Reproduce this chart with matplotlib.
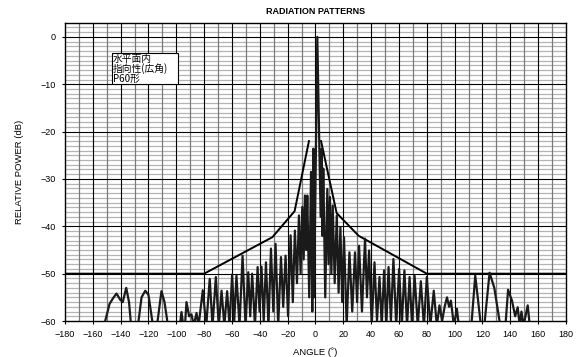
import matplotlib
matplotlib.use("Agg")
import matplotlib.pyplot as plt
import numpy as np

plt.rcParams['font.family'] = ['Liberation Sans', 'DejaVu Sans']

# measured pattern: angle (deg) and relative level (dB); -61 = below chart floor
angle = [-152, -148, -145.5, -143, -140.3, -138.5, -136, -134, -132.5,
         -127.6, -125, -122.3, -120, -116.8,
         -113.9, -110.7, -108.5, -106,
         -97.5, -96.3, -95, -93.8, -92.7, -90.8, -89.1, -87.5, -85.5, -84,
         -81, -78.5, -76, -74, -71.6, -69.5, -67.5, -65.5, -63.5, -61.8,
         -59.9, -58.4, -56.8, -54.6, -52.4, -50.3, -48.3, -46.9, -45.5, -43.5,
         -41.6, -40.2, -38.8, -37.2, -35.6, -33.8, -32, -30.3, -28.7, -26.8,
         -24.8, -23.2, -21.5, -19.7, -17.9, -16.3, -14.8, -13.3, -11.9, -10.7,
         -9.5, -8.5, -7.6, -6.7, -5.9, -4.5, -3.2, -2.3, -1.5, -1.0,
         1.3, 3.7, 4.5, 5.0, 5.6, 7.0, 8.5, 9.4, 10.4, 11.4,
         12.4, 13.8, 15.3, 16.6, 17.9, 19.2, 20.5, 22.4, 24.4, 26.4,
         28.4, 29.9, 31.3, 33.4, 35.6, 37, 38.5, 40.4, 42.4, 44.2,
         46, 47.6, 49.3, 50.9, 52.5, 54.2, 56, 58, 60.1, 62,
         63.9, 65.8, 67.6, 69.4, 71.2, 73.5, 75.7, 77.9, 80, 82.5,
         85, 87.2, 89.1, 91, 92.8, 94.5, 96, 97.3, 99.5, 101.6, 103,
         112, 114.8, 118.9, 121.3, 125.1, 128.5, 132.8,
         136.5, 138.4, 141.2, 143.5, 145.3, 146.8, 148, 149.5, 152.5, 154]
level = [-61, -56.4, -55.2, -54.2, -55.5, -56, -53, -56, -61,
         -61, -55, -53.6, -54.5, -61,
         -61, -53.7, -56, -61,
         -61, -58.1, -61, -61, -56, -59, -58.6, -61, -58.3, -61,
         -53.5, -61, -51.1, -61, -50.7, -61, -53.6, -61, -53.7, -61,
         -50.2, -60, -50.4, -61, -46.2, -61, -49.7, -59, -50, -61,
         -48.6, -58, -48.5, -60, -47.6, -61, -44.7, -58, -43.7, -61,
         -46.5, -57, -46.2, -59, -41.9, -56, -40.9, -52, -37.7, -50,
         -35.9, -47, -33.5, -45, -33.5, -55, -28.5, -58, -23.6, -55,
         0, -38, -23.6, -42, -27.8, -55, -32.1, -48, -33.8, -50,
         -35.6, -52, -37.7, -54, -40.2, -56, -42.3, -61, -45.5, -58,
         -45.5, -56, -44.1, -58, -42.6, -55, -45.1, -61, -47.6, -60,
         -50.7, -61, -49.3, -61, -48.6, -60, -46.9, -61, -49, -61,
         -49.3, -61, -50.7, -61, -50.4, -61, -51.6, -61, -50.7, -61,
         -53.6, -61, -56.7, -60, -57, -55, -57, -55.7, -61, -57.4, -61,
         -61, -50.4, -61, -61, -49.8, -53, -61,
         -61, -53.4, -55.7, -59, -57.1, -61, -58, -61, -56.7, -61]

# limit mask, left and right halves (open at the top)
mask_left_angle = [-180, -80, -31, -15, -4.7]
mask_left_level = [-50, -50, -42.3, -36.8, -22]
mask_right_angle = [4, 15.2, 31, 80, 180]
mask_right_level = [-22, -37.2, -42, -50, -50]

xticks = list(range(-180, 181, 20))
yticks = list(range(-60, 1, 10))

fig = plt.figure(figsize=(5.83, 3.57), dpi=100)
ax = fig.add_axes([0.1115, 0.1008, 0.8593, 0.8356])

ax.set_xlim(-180, 180)
ax.set_ylim(-60, 3)

# fine chart-paper grid
for a in range(-170, 180, 20):
    ax.axvline(a, color='#7a7a7a', lw=0.9, zorder=1)
for a in range(-160, 180, 20):
    ax.axvline(a, color='black', lw=0.8, zorder=1.2)
for d in range(-59, 3):
    if d % 10 != 0:
        ax.axhline(d, color='#b4b4b4', lw=0.9, zorder=0.9)
for d in range(-50, 1, 10):
    ax.axhline(d, color='black', lw=0.8, zorder=1.2)

ax.plot(mask_left_angle, mask_left_level, color='black', lw=1.4, zorder=3)
ax.plot(mask_right_angle, mask_right_level, color='black', lw=1.4, zorder=3)
ax.plot(angle, level, color='#1a1a1a', lw=1.6, zorder=4)

ax.set_xticks(xticks)
ax.set_yticks(yticks)
ax.set_xticklabels([str(t).replace('-', '\u2212') for t in xticks])
ax.set_yticklabels([str(t).replace('-', '\u2212') for t in yticks])
ax.tick_params(labelsize=6.5, length=2.5, width=0.8, direction='out', pad=4)
for s in ax.spines.values():
    s.set_linewidth(1.0)

ax.set_title('RADIATION PATTERNS', fontsize=6.5, fontweight='bold', pad=6)
ax.set_xlabel('ANGLE (\u02da)', fontsize=6.8, labelpad=6)
ax.set_ylabel('RELATIVE POWER (dB)', fontsize=6.8, labelpad=12)

# note box, one text per line
note_lines = ['水平面内', '指向性(広角)', 'P60形']
ax.add_patch(plt.Rectangle((-146.5, -9.9), 47.5, 6.5, fc='white', ec='black',
                           lw=0.8, zorder=6))
for i, line in enumerate(note_lines):
    ax.text(-145.8, -4.6 - 2.1 * i, line, fontsize=7,
            family=['Noto Sans CJK JP', 'DejaVu Sans'], va='center',
            ha='left', zorder=7)

fig.savefig('out.png', dpi=100)
